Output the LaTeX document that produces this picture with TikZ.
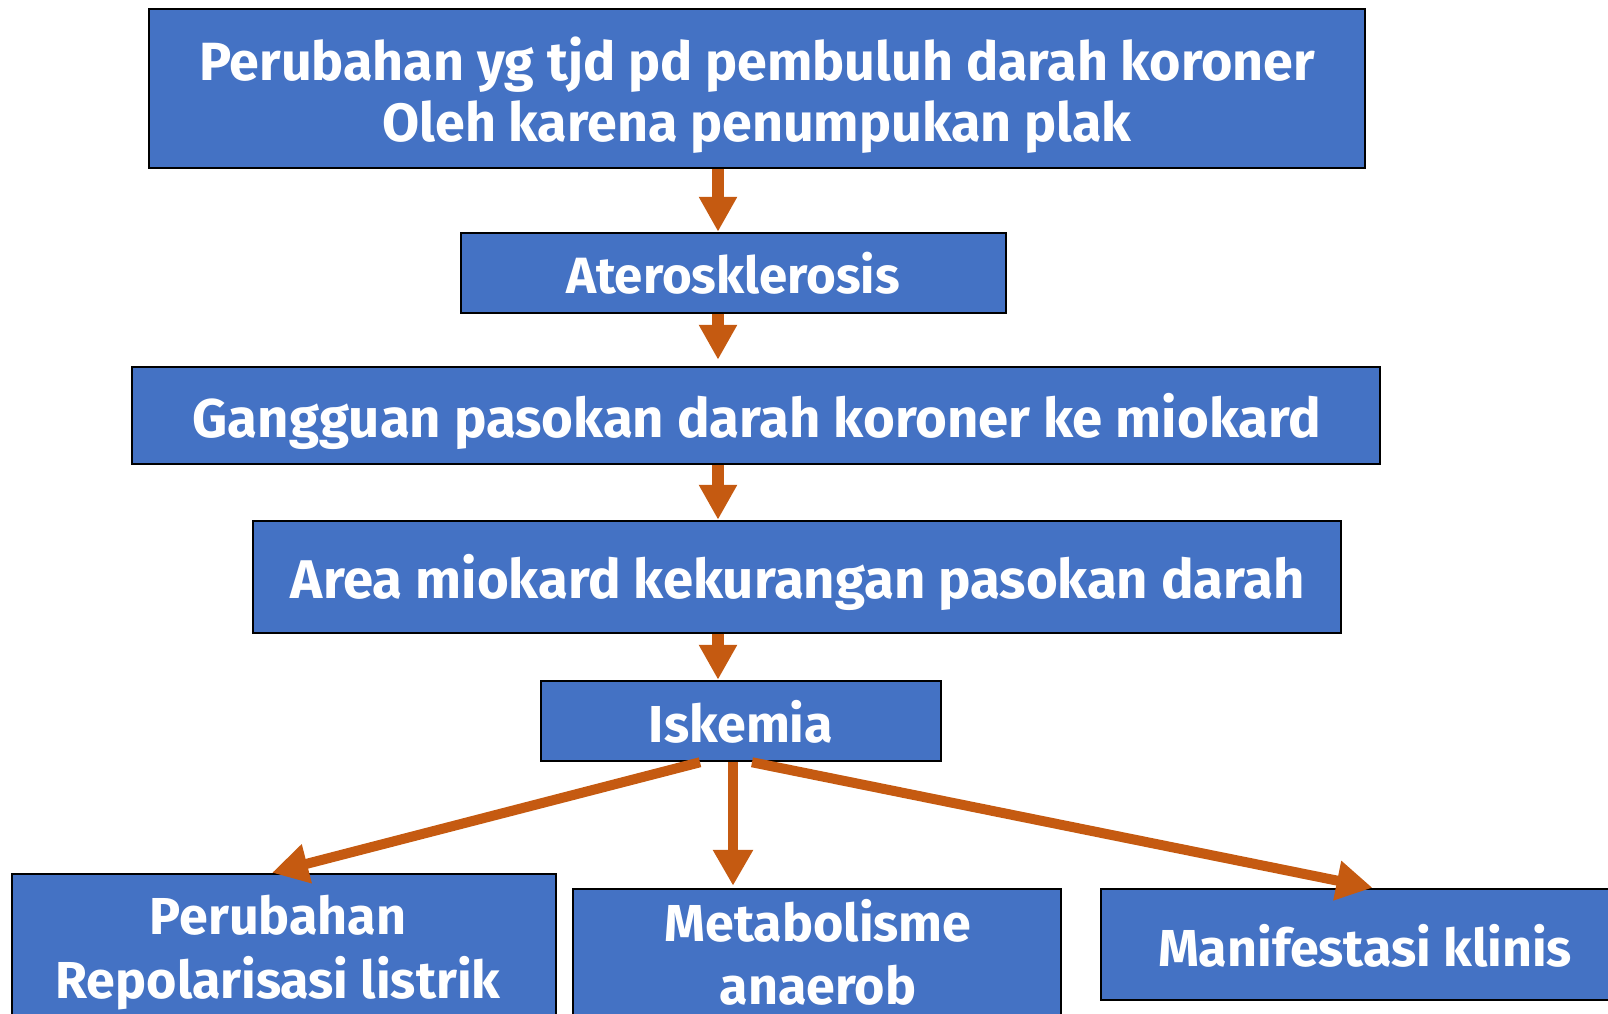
\documentclass[tikz,border=0pt]{standalone}
\usepackage{fontspec}
\setmainfont{Fira Sans}
\usetikzlibrary{arrows.meta}
\definecolor{boxblue}{HTML}{4472C4}
\definecolor{arrorange}{HTML}{C55A11}
\begin{document}
\begin{tikzpicture}[x=1pt,y=-1pt,
  box/.style={draw=black,line width=2.5pt,fill=boxblue,inner sep=0pt,rectangle},
  txt/.style={text=white,inner sep=0pt,anchor=base,font=\bfseries\fontsize{52}{60}\selectfont},
  bigtxt/.style={txt,font=\bfseries\fontsize{54.5}{60}\selectfont},
  toptxt/.style={txt,font=\bfseries\fontsize{53.8}{60}\selectfont},
  smalltxt/.style={txt,font=\bfseries\fontsize{51}{60}\selectfont},
  arr/.style={draw=arrorange,line width=12pt,-{Triangle[width=36pt,length=35pt]}},
  darr/.style={draw=arrorange,line width=10pt,-{Triangle[width=38pt,length=36pt]}}]
\useasboundingbox (0,0) rectangle (1608,1013);
\begin{scope}
\clip (0,0) rectangle (1608,1013);
\node[box,minimum width=1216pt,minimum height=159pt] (b1) at (757,88.5) {};
\node[box,minimum width=545pt,minimum height=80pt] (b2) at (733.5,273) {};
\node[box,minimum width=1248pt,minimum height=97pt] (b3) at (756,415.5) {};
\node[box,minimum width=1088pt,minimum height=112pt] (b4) at (797,577) {};
\node[box,minimum width=400pt,minimum height=80pt] (b5) at (741,721) {};
\node[box,minimum width=544pt,minimum height=170pt] (b6) at (284,959) {};
\node[box,minimum width=488pt,minimum height=160pt] (b7) at (817,969) {};
\node[box,minimum width=529pt,minimum height=111pt] (b8) at (1365.5,944.5) {};
\end{scope}
\node[toptxt] (t1a) at (757,80) {Perubahan yg tjd pd pembuluh darah koroner};
\node[toptxt] (t1b) at (757,141) {Oleh karena penumpukan plak};
\node[smalltxt] (t2) at (733,293) {Aterosklerosis};
\node[bigtxt] (t3) at (757,437) {Gangguan pasokan darah koroner ke miokard};
\node[bigtxt] (t4) at (798,598) {Area miokard kekurangan pasokan darah};
\node[txt] (t5) at (741,742) {Iskemia};
\node[txt] (t6a) at (278,934) {Perubahan};
\node[txt] (t6b) at (278,998) {Repolarisasi listrik};
\node[txt] (t7a) at (818,941) {Metabolisme};
\node[txt] (t7b) at (818,1004) {anaerob};
\node[txt] (t8) at (1365,966) {Manifestasi klinis};
\coordinate (ax) at (718,0);
\draw[arr] (b1.south -| ax) -- (b2.north -| ax);
\draw[arr] (b2.south -| ax) -- ([yshift=6pt]b3.north -| ax);
\draw[arr] (b3.south -| ax) -- (b4.north -| ax);
\draw[arr] (b4.south -| ax) -- (b5.north -| ax);
\draw[darr] ([xshift=-41pt]b5.south) -- ([xshift=-12pt]b6.north);
\draw[darr] ([xshift=-8pt]b5.south) -- ([xshift=-8pt,yshift=2pt]b7.north -| b5.south);
\draw[darr] ([xshift=11pt]b5.south) -- ([xshift=7pt]b8.north);
\end{tikzpicture}
\end{document}
